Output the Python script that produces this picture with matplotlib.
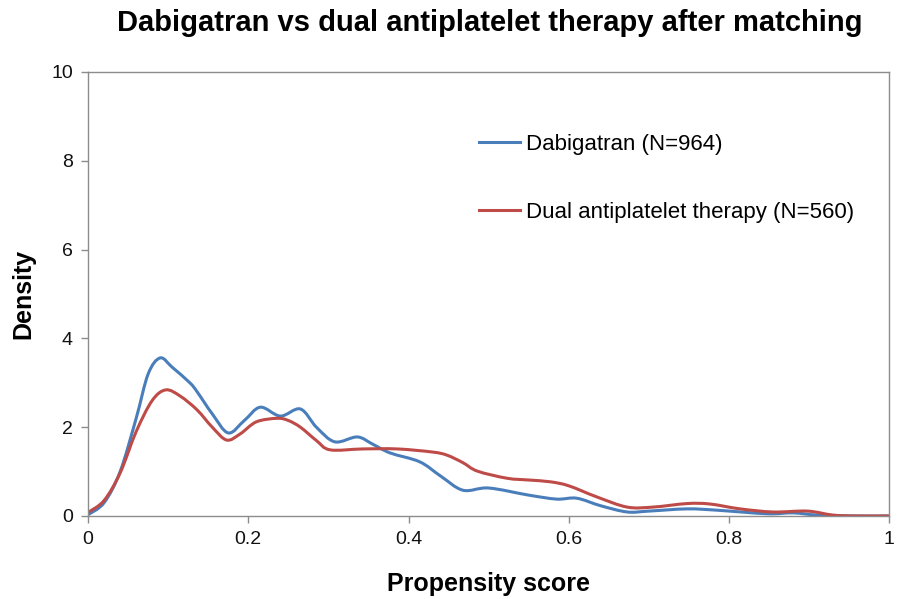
import numpy as np
import matplotlib
matplotlib.use("Agg")
from matplotlib import pyplot as plt
from matplotlib.path import Path
from matplotlib.patches import PathPatch
from matplotlib.lines import Line2D

plt.rcParams['font.family'] = ['Liberation Sans', 'DejaVu Sans']

# curve points
dabi_x = [0.0, 0.02, 0.04, 0.06, 0.075, 0.09, 0.105, 0.127, 0.136, 0.155, 0.175,
          0.195, 0.215, 0.24, 0.265, 0.285, 0.308, 0.336, 0.355, 0.377, 0.414,
          0.44, 0.468, 0.50, 0.55, 0.585, 0.61, 0.64, 0.673, 0.70, 0.748,
          0.785, 0.848, 0.88, 0.91, 0.95, 1.0]
dabi_y = [0.03, 0.3, 1.0, 2.2, 3.2, 3.56, 3.35, 3.0, 2.8, 2.3, 1.87,
          2.15, 2.45, 2.25, 2.41, 2.0, 1.67, 1.78, 1.62, 1.42, 1.22,
          0.9, 0.58, 0.63, 0.47, 0.38, 0.40, 0.23, 0.09, 0.11, 0.16,
          0.13, 0.05, 0.07, 0.02, 0.0, 0.0]

dapt_x = [0.0, 0.02, 0.04, 0.06, 0.08, 0.097, 0.115, 0.136, 0.155, 0.173,
          0.19, 0.21, 0.236, 0.25, 0.265, 0.285, 0.302, 0.343, 0.386, 0.43,
          0.448, 0.468, 0.486, 0.523, 0.55, 0.577, 0.60, 0.635, 0.673, 0.705,
          0.748, 0.776, 0.814, 0.855, 0.898, 0.93, 0.96, 1.0]
dapt_y = [0.08, 0.35, 0.97, 1.9, 2.6, 2.84, 2.7, 2.39, 2.0, 1.71,
          1.85, 2.12, 2.2, 2.15, 2.0, 1.7, 1.49, 1.51, 1.51, 1.44,
          1.37, 1.2, 1.01, 0.85, 0.81, 0.77, 0.68, 0.43, 0.2, 0.2,
          0.28, 0.27, 0.16, 0.09, 0.11, 0.02, 0.0, 0.0]

labels = ['Dabigatran (N=964)', 'Dual antiplatelet therapy (N=560)']
colors = ['#4A7EBB', '#BE4B48']


def smooth_line(ax, xs, ys, color, lw):
    # Excel style smoothed line: bezier segments through the points
    p = np.column_stack([xs, ys])
    verts = [p[0]]
    codes = [Path.MOVETO]
    for i in range(len(p) - 1):
        p0 = p[i - 1] if i > 0 else p[i]
        p3 = p[i + 2] if i + 2 < len(p) else p[i + 1]
        c1 = p[i] + (p[i + 1] - p0) / 6.0
        c2 = p[i + 1] - (p3 - p[i]) / 6.0
        verts += [c1, c2, p[i + 1]]
        codes += [Path.CURVE4] * 3
    patch = PathPatch(Path(verts, codes), facecolor='none', edgecolor=color,
                      lw=lw, capstyle='round', joinstyle='round')
    ax.add_patch(patch)


fig = plt.figure(figsize=(8.99, 5.99), dpi=100)
ax = fig.add_axes([0.098, 0.1386, 0.891, 0.7412])

smooth_line(ax, dabi_x, dabi_y, colors[0], 2.2)
smooth_line(ax, dapt_x, dapt_y, colors[1], 2.2)

ax.set_xlim(0, 1)
ax.set_ylim(0, 10)
ax.set_xticks([0, 0.2, 0.4, 0.6, 0.8, 1])
ax.set_xticklabels(['0', '0.2', '0.4', '0.6', '0.8', '1'])
ax.set_yticks([0, 2, 4, 6, 8, 10])

for s in ax.spines.values():
    s.set_color('#8C8C8C')
    s.set_linewidth(1.0)
ax.tick_params(colors='#8C8C8C', labelcolor='#111111', labelsize=14,
               length=5, width=1.0, pad=6)

ax.set_xlabel('Propensity score', fontsize=18, fontweight='bold', labelpad=17)
ax.set_ylabel('Density', fontsize=18, fontweight='bold', labelpad=11)
fig.suptitle('Dabigatran vs dual antiplatelet therapy after matching',
             fontsize=21, fontweight='bold', x=0.545, y=0.985)

handles = [Line2D([], [], color=c, lw=2.2) for c in colors]
ax.legend(handles, labels, loc='upper left', bbox_to_anchor=(0.488, 0.86),
          frameon=False, fontsize=16, handlelength=1.85, handletextpad=0.25,
          labelspacing=2.1, borderpad=0, borderaxespad=0)

fig.savefig('out.png', dpi=100)
